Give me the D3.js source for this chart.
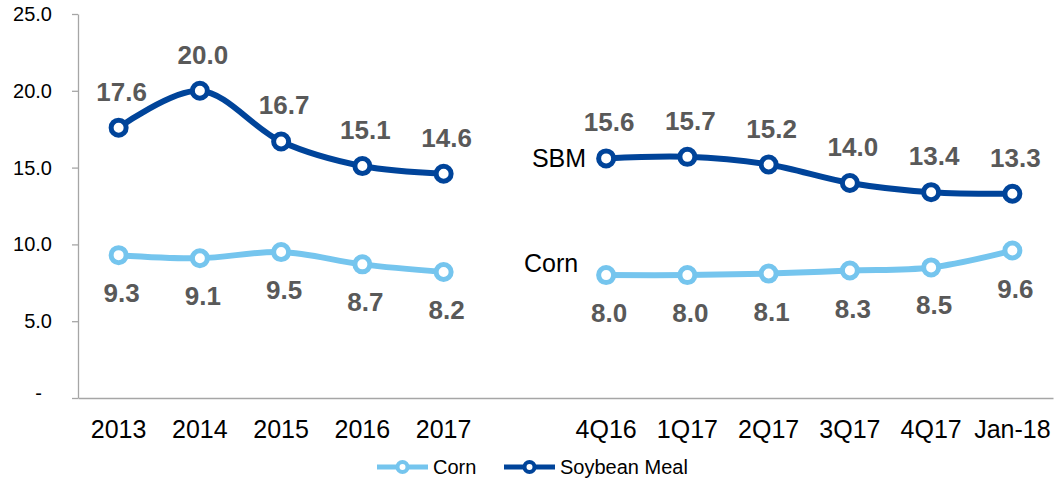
<!DOCTYPE html>
<html>
<head>
<meta charset="utf-8">
<script src="https://cdn.jsdelivr.net/npm/d3@7/dist/d3.min.js"></script>
<style>
  html, body { margin: 0; padding: 0; background: #fff; }
  svg { display: block; font-family: "Liberation Sans", Arial, sans-serif; }
</style>
</head>
<body>
<svg id="chart" width="1055" height="479"></svg>
<script>
// Categories: annual block, an empty spacer slot, then quarterly block
const annualCats = ["2013", "2014", "2015", "2016", "2017"];
const quarterCats = ["4Q16", "1Q17", "2Q17", "3Q17", "4Q17", "Jan-18"];
const spacer = "";

// Values
const cornAnnual = [9.3, 9.1, 9.5, 8.7, 8.2];
const sbmAnnual = [17.6, 20.0, 16.7, 15.1, 14.6];
const cornQuarter = [8.0, 8.0, 8.1, 8.3, 8.5, 9.6];
const sbmQuarter = [15.6, 15.7, 15.2, 14.0, 13.4, 13.3];

const yTicks = [0, 5, 10, 15, 20, 25];
const seriesNames = ["Corn", "Soybean Meal"];

const colors = { corn: "#75C5EE", sbm: "#00449A" };
const labelColor = "#595959";
const font = "Liberation Sans, Arial, sans-serif";

const svg = d3.select("#chart");
const margin = { left: 78, right: 2, top: 14, bottom: 81 };
const W = 1055, H = 479;

const allCats = [...annualCats, spacer, ...quarterCats];
const x = d3.scaleBand().domain(allCats).range([margin.left, W - margin.right]).padding(0);
const cx = c => x(c) + x.bandwidth() / 2;
const y = d3.scaleLinear().domain([0, 25]).range([H - margin.bottom, margin.top]);

// Y axis
const yAxis = d3.axisLeft(y).tickValues(yTicks).tickSize(6).tickSizeOuter(0)
  .tickFormat(d => d === 0 ? "-" : d3.format(".1f")(d));
const gy = svg.append("g").attr("transform", `translate(${margin.left},0)`).call(yAxis);
gy.attr("font-size", 20).attr("font-family", font);
gy.select(".domain").attr("stroke", "#a6a6a6").attr("stroke-width", 1.3);
gy.selectAll(".tick line").attr("stroke", "#a6a6a6").attr("stroke-width", 1.3);
gy.selectAll(".tick text").attr("fill", "#000").attr("x", -26);
gy.selectAll(".tick text").filter(d => d === 0).attr("x", -36).attr("dy", "0.05em");

// X axis
const xAxis = d3.axisBottom(x).tickSize(0).tickSizeOuter(0);
const gx = svg.append("g").attr("transform", `translate(0,${y(0)})`).call(xAxis);
gx.attr("font-size", 25).attr("font-family", font);
gx.select(".domain").attr("stroke", "#a6a6a6").attr("stroke-width", 1.3);
gx.selectAll(".tick text").attr("fill", "#000").attr("y", 40).attr("dy", 0);

const line = d3.line().x(d => cx(d.c)).y(d => y(d.v)).curve(d3.curveCatmullRom.alpha(0.5));

function drawSeries(cats, vals, color, labelAbove) {
  const data = cats.map((c, i) => ({ c, v: vals[i] }));
  svg.append("path").datum(data).attr("d", line)
    .attr("fill", "none").attr("stroke", color).attr("stroke-width", 6)
    .attr("stroke-linejoin", "round").attr("stroke-linecap", "round");
  svg.append("g").selectAll("circle").data(data).join("circle")
    .attr("cx", d => cx(d.c)).attr("cy", d => y(d.v)).attr("r", 7.5)
    .attr("fill", "#fff").attr("stroke", color).attr("stroke-width", 5);
  svg.append("g").selectAll("text").data(data).join("text")
    .attr("x", d => cx(d.c) + 3)
    .attr("y", d => labelAbove ? y(d.v) - 27 : y(d.v) + 47)
    .attr("text-anchor", "middle").attr("font-size", 26).attr("font-weight", "bold")
    .attr("fill", labelColor).text(d => d.v.toFixed(1));
}

drawSeries(annualCats, cornAnnual, colors.corn, false);
drawSeries(quarterCats, cornQuarter, colors.corn, false);
drawSeries(annualCats, sbmAnnual, colors.sbm, true);
drawSeries(quarterCats, sbmQuarter, colors.sbm, true);

// Inline series names beside the quarterly block
svg.append("text").attr("x", cx(quarterCats[0]) - 20).attr("y", y(sbmQuarter[0]) + 9)
  .attr("text-anchor", "end").attr("font-size", 25).attr("fill", "#000").text("SBM");
svg.append("text").attr("x", cx(quarterCats[0]) - 28).attr("y", y(cornQuarter[0]) - 3)
  .attr("text-anchor", "end").attr("font-size", 25).attr("fill", "#000").text("Corn");

// Legend
const legendY = 467;
const legend = [
  { name: seriesNames[0], color: colors.corn, x0: 377 },
  { name: seriesNames[1], color: colors.sbm, x0: 504 }
];
const lg = svg.append("g");
legend.forEach(l => {
  lg.append("line").attr("x1", l.x0).attr("x2", l.x0 + 51).attr("y1", legendY).attr("y2", legendY)
    .attr("stroke", l.color).attr("stroke-width", 5);
  lg.append("circle").attr("cx", l.x0 + 25.5).attr("cy", legendY).attr("r", 5)
    .attr("fill", "#fff").attr("stroke", l.color).attr("stroke-width", 4);
  lg.append("text").attr("x", l.x0 + 56).attr("y", legendY + 7).attr("font-size", 20)
    .attr("fill", "#000").text(l.name);
});
</script>
</body>
</html>
